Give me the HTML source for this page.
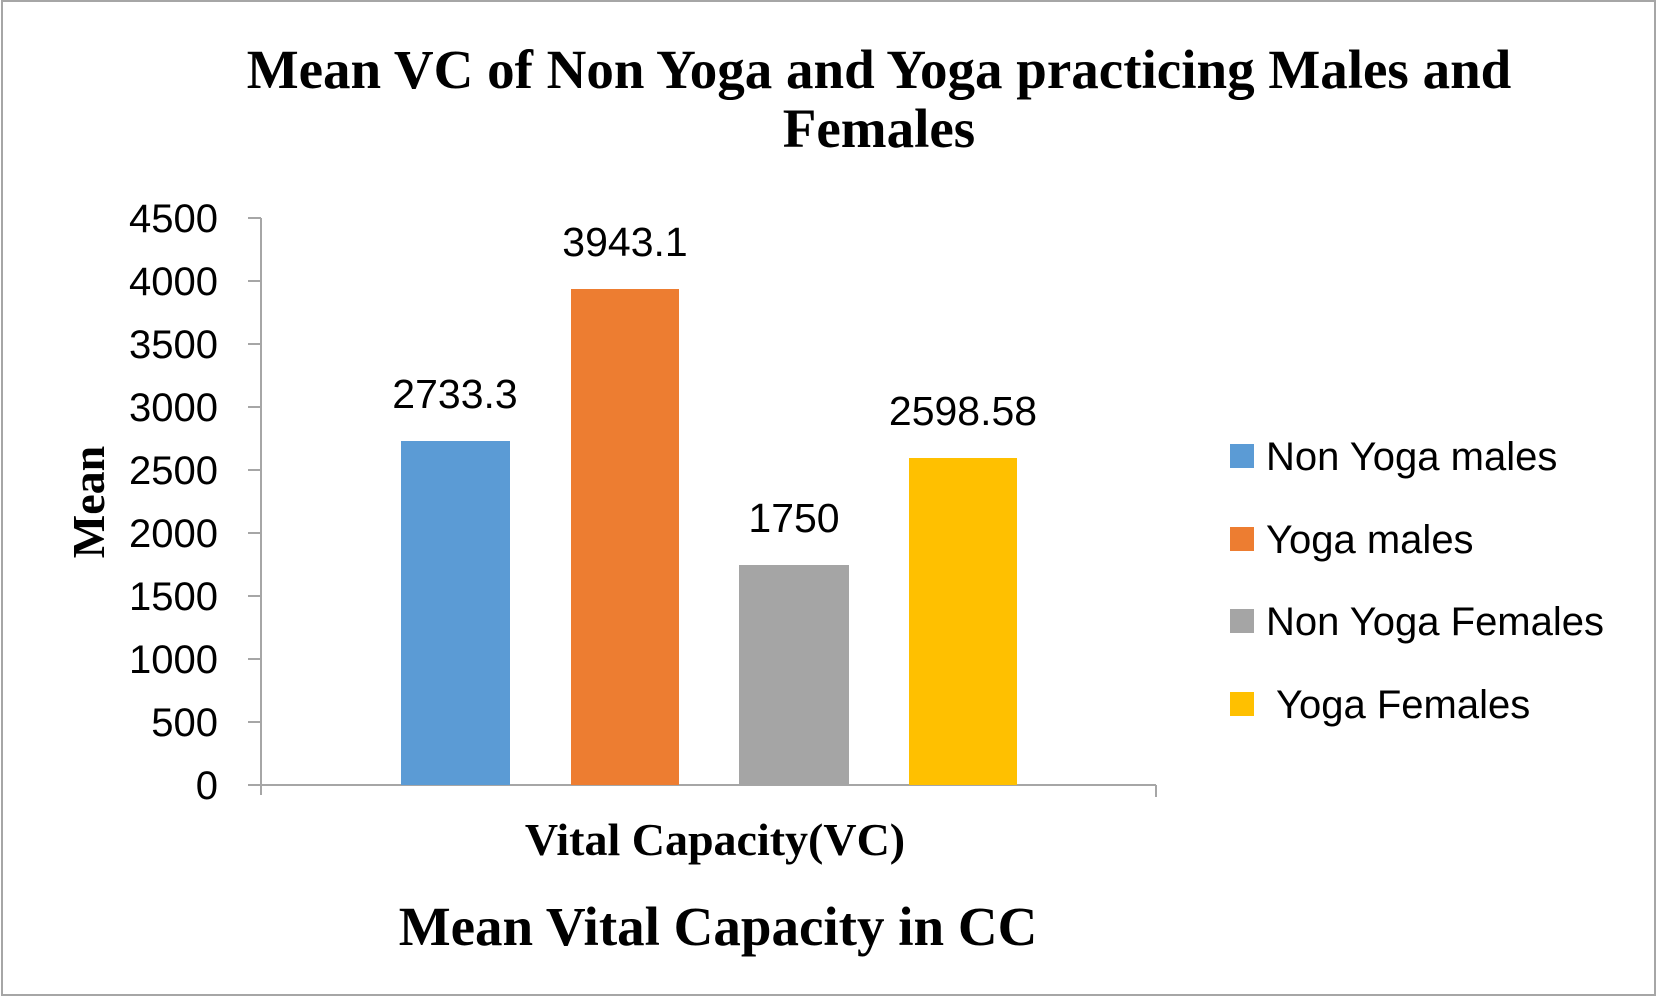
<!DOCTYPE html>
<html><head><meta charset="utf-8"><style>body{margin:0;background:#fff}svg{display:block}</style></head><body>
<svg width="1663" height="1003" viewBox="0 0 1663 1003" xmlns="http://www.w3.org/2000/svg">
<rect x="2" y="1" width="1653" height="994" fill="#fff" stroke="#a6a6a6" stroke-width="2"/>
<g font-family="Liberation Serif, serif" font-weight="bold" fill="#000" text-anchor="middle">
<text x="879" y="88" font-size="55">Mean VC of Non Yoga and Yoga practicing Males and</text>
<text x="879" y="147" font-size="55">Females</text>
<text x="715" y="855" font-size="46">Vital Capacity(VC)</text>
<text x="718" y="945" font-size="55">Mean Vital Capacity in CC</text>
<text transform="translate(104,502) rotate(-90)" font-size="46">Mean</text>
</g>
<g stroke="#a6a6a6" stroke-width="2" fill="none">
<line x1="261" y1="218" x2="261" y2="795"/>
<line x1="248" y1="785" x2="1156" y2="785"/>
<line x1="1156" y1="785" x2="1156" y2="797"/>
<line x1="248" y1="218" x2="261" y2="218"/><line x1="248" y1="281" x2="261" y2="281"/>
<line x1="248" y1="344" x2="261" y2="344"/><line x1="248" y1="407" x2="261" y2="407"/>
<line x1="248" y1="470" x2="261" y2="470"/><line x1="248" y1="533" x2="261" y2="533"/>
<line x1="248" y1="596" x2="261" y2="596"/><line x1="248" y1="659" x2="261" y2="659"/>
<line x1="248" y1="722" x2="261" y2="722"/>
</g>
<g font-family="Liberation Sans, sans-serif" font-size="40" fill="#000" text-anchor="end">
<text x="218" y="232">4500</text><text x="218" y="295">4000</text><text x="218" y="358">3500</text>
<text x="218" y="421">3000</text><text x="218" y="484">2500</text><text x="218" y="547">2000</text>
<text x="218" y="610">1500</text><text x="218" y="673">1000</text><text x="218" y="736">500</text>
<text x="218" y="799">0</text>
</g>
<rect x="401" y="441" width="109" height="344" fill="#5b9bd5"/>
<rect x="571" y="289" width="108" height="496" fill="#ed7d31"/>
<rect x="739" y="565" width="110" height="220" fill="#a5a5a5"/>
<rect x="909" y="458" width="108" height="327" fill="#ffc000"/>
<g font-family="Liberation Sans, sans-serif" font-size="41" fill="#000" text-anchor="middle">
<text x="455" y="408">2733.3</text>
<text x="625" y="256">3943.1</text>
<text x="794" y="532">1750</text>
<text x="963" y="425">2598.58</text>
</g>
<rect x="1230" y="444" width="24" height="24" fill="#5b9bd5"/>
<rect x="1230" y="527" width="24" height="24" fill="#ed7d31"/>
<rect x="1230" y="609" width="24" height="24" fill="#a5a5a5"/>
<rect x="1230" y="692" width="24" height="24" fill="#ffc000"/>
<g font-family="Liberation Sans, sans-serif" font-size="40" fill="#000">
<text x="1266" y="470">Non Yoga males</text>
<text x="1266" y="553">Yoga males</text>
<text x="1266" y="635">Non Yoga Females</text>
<text x="1276" y="718">Yoga Females</text>
</g>
</svg>
</body></html>
